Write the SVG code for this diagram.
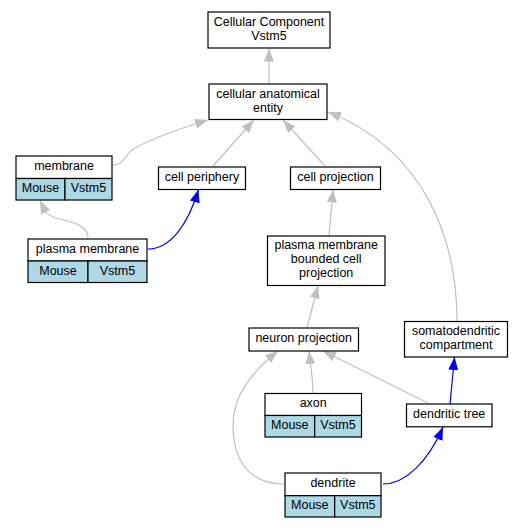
<svg xmlns="http://www.w3.org/2000/svg" width="523" height="528" viewBox="0 0 523 528">
<style>
text{font-family:"Liberation Sans",Arial,sans-serif;font-size:12.5px;fill:#000;text-anchor:middle}
.box{fill:#fff;stroke:#000;stroke-width:1.2}
.cell{fill:#add8e6;stroke:#000;stroke-width:1.2}
.e{fill:none;stroke:#c0c0c0;stroke-width:1.2;marker-end:url(#ag)}
.b{fill:none;stroke:#0000ff;stroke-width:1.2;marker-end:url(#ab)}
</style>
<defs>
<marker id="ag" markerUnits="userSpaceOnUse" markerWidth="14" markerHeight="11" refX="13" refY="5" orient="auto" viewBox="0 0 14 11"><path d="M0,0 L13,5 L0,10 z" fill="#c0c0c0"/></marker>
<marker id="ab" markerUnits="userSpaceOnUse" markerWidth="14" markerHeight="11" refX="13" refY="5" orient="auto" viewBox="0 0 14 11"><path d="M0,0 L13,5 L0,10 z" fill="#0000ff"/></marker>
</defs>
<rect width="523" height="528" fill="#fff"/>
<g id="edges">
<path class="e" d="M269,84 L269,48.5"/>
<path class="e" d="M113,165 C125,165 124,154 135,148 C155,137 185,127 208,120"/>
<path class="e" d="M213,166 L254,120"/>
<path class="e" d="M325,166 L283,120"/>
<path class="e" d="M457,321 C457,240 425,150 328,112"/>
<path class="e" d="M88,238 C88,224 70,222 56,218 C50,216 47,214 45,211 L40,200.5"/>
<path class="b" d="M148,249 C170,249 188,225 198.5,189.5"/>
<path class="e" d="M329,236 L333,189.5"/>
<path class="e" d="M307,328 L318,285.5"/>
<path class="e" d="M313,393 C313,380 311,370 309,351"/>
<path class="e" d="M428,403 L323,351"/>
<path class="e" d="M284,484 C245,484 233,455 233,425 C233,395 252,372 278,351"/>
<path class="b" d="M450,404 L454.5,357"/>
<path class="b" d="M383,484 C405,484 428,462 443,427"/>
</g>
<g id="n_cc"><rect class="box" x="208" y="12" width="122" height="36"/><text x="269" y="26.2">Cellular Component</text><text x="269" y="40.2">Vstm5</text></g>
<g id="n_cae"><rect class="box" x="209" y="84" width="118" height="35.5"/><text x="268" y="97.5">cellular anatomical</text><text x="268" y="111.5">entity</text></g>
<g id="n_membrane"><rect class="box" x="16" y="156" width="96" height="22.5"/><rect class="cell" x="16" y="178.5" width="49" height="21.5"/><rect class="cell" x="65" y="178.5" width="47" height="21.5"/><text x="64" y="169.5">membrane</text><text x="40.5" y="191.5">Mouse</text><text x="88.5" y="191.5">Vstm5</text></g>
<g id="n_periphery"><rect class="box" x="158.5" y="167" width="87" height="22.5"/><text x="202" y="181">cell periphery</text></g>
<g id="n_projection"><rect class="box" x="290.5" y="167" width="90" height="22.5"/><text x="335.5" y="181">cell projection</text></g>
<g id="n_plasma"><rect class="box" x="28" y="239" width="119" height="22"/><rect class="cell" x="28" y="261" width="60" height="21.5"/><rect class="cell" x="88" y="261" width="59" height="21.5"/><text x="87.5" y="253">plasma membrane</text><text x="58" y="274.5">Mouse</text><text x="117.5" y="274.5">Vstm5</text></g>
<g id="n_pmbcp"><rect class="box" x="267.5" y="236" width="117.5" height="49.5"/><text x="326.2" y="248.7">plasma membrane</text><text x="326.2" y="262.7">bounded cell</text><text x="326.2" y="276.7">projection</text></g>
<g id="n_neuronproj"><rect class="box" x="249" y="328" width="109.5" height="23"/><text x="303.7" y="342">neuron projection</text></g>
<g id="n_somato"><rect class="box" x="404.5" y="321.5" width="103" height="35.5"/><text x="456" y="334.5">somatodendritic</text><text x="456" y="348.5">compartment</text></g>
<g id="n_axon"><rect class="box" x="265" y="393.5" width="96.5" height="22"/><rect class="cell" x="265" y="415.5" width="49.7" height="21.5"/><rect class="cell" x="314.7" y="415.5" width="46.8" height="21.5"/><text x="313.2" y="407">axon</text><text x="289.8" y="429">Mouse</text><text x="338" y="429">Vstm5</text></g>
<g id="n_dtree"><rect class="box" x="406.5" y="404" width="85.5" height="22.8"/><text x="449.2" y="418">dendritic tree</text></g>
<g id="n_dendrite"><rect class="box" x="285" y="473" width="96" height="22.7"/><rect class="cell" x="285" y="495.7" width="49.7" height="21.3"/><rect class="cell" x="334.7" y="495.7" width="46.3" height="21.3"/><text x="333" y="487">dendrite</text><text x="309.8" y="508.5">Mouse</text><text x="357.8" y="508.5">Vstm5</text></g>
</svg>
